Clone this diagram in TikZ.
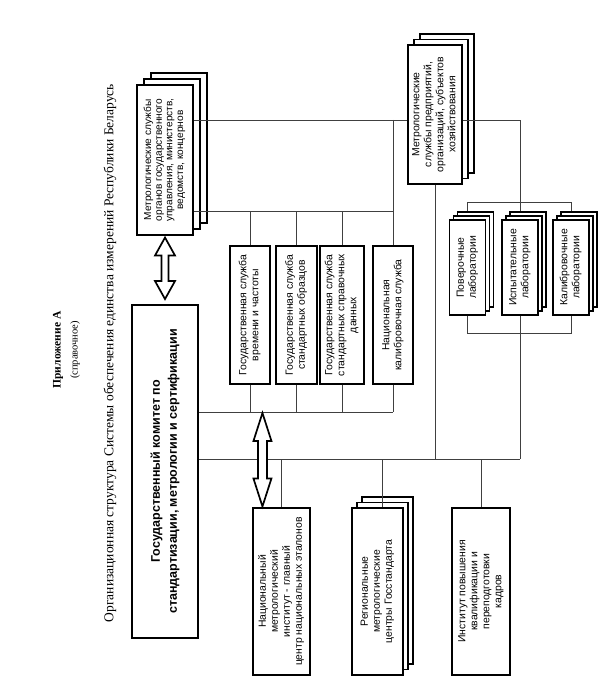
\documentclass[tikz,border=0pt]{standalone}
\usepackage{graphicx}
\usepackage{fontspec}
\setmainfont{Liberation Serif}
\setsansfont{Liberation Sans}
\usetikzlibrary{calc}

\newcommand{\vtext}[1]{\rotatebox{90}{\begin{tabular}{@{}c@{}}#1\end{tabular}}}
% hollow double arrow: top tip, bottom tip, half head, half shaft, head length
\newcommand{\hollowarrow}[5]{%
  \draw[dblarrow] let \p1=#1, \p2=#2 in
    (\x1,\y1) -- (\x1+#3,\y1-#5) -- (\x1+#4,\y1-#5) -- (\x1+#4,\y2+#5)
    -- (\x1+#3,\y2+#5) -- (\x1,\y2) -- (\x1-#3,\y2+#5) -- (\x1-#4,\y2+#5)
    -- (\x1-#4,\y1-#5) -- (\x1-#3,\y1-#5) -- cycle;}

\tikzset{
  box/.style={draw, fill=white, line width=1.1pt, inner sep=0pt,
    font=\sffamily\fontsize{10.4}{12}\selectfont},
  line/.style={line width=0.8pt, draw=black!75},
  dblarrow/.style={line width=1.7pt, fill=white, line join=miter},
}

\begin{document}
\begin{tikzpicture}[x=1pt, y=-1pt]
\useasboundingbox (0,0) rectangle (603,684);

% titles
\node[rotate=90, font=\bfseries\fontsize{11.5}{13}\selectfont] (app) at (58,350) {Приложение А};
\node[rotate=90, font=\fontsize{10.5}{12}\selectfont] (ref) at (75,350) {(справочное)};
\node[rotate=90, font=\fontsize{13.5}{16}\selectfont] (title) at (110,353)
  {Организационная структура Системы обеспечения единства измерений Республики Беларусь};

% bus levels
\coordinate (yA) at (0,120);
\coordinate (yB) at (0,211);
\coordinate (yC) at (0,412);
\coordinate (yD) at (0,459);
\coordinate (yT) at (0,202);
\coordinate (yL) at (0,333);

% main committee
\node[box, line width=1.9pt, minimum width=66pt, minimum height=333pt,
  font=\sffamily\bfseries\fontsize{12.5}{17}\selectfont] (M) at (165,471.5)
  {\vtext{Государственный комитет по\\стандартизации, метрологии и сертификации}};

% ministries (stack)
\coordinate (cA) at (165,160);
\foreach \d in {2,1}
  \node[box, minimum width=56pt, minimum height=150pt] (A-\d) at ([shift={(7*\d,-6*\d)}]cA) {};
\node[box, minimum width=56pt, minimum height=150pt,
  font=\sffamily\fontsize{10.1}{10.6}\selectfont] (A) at (cA)
  {\vtext{Метрологические службы\\органов государственного\\управления, министерств,\\ведомств, концернов}};

% enterprises (stack)
\coordinate (cB) at (435,114.5);
\foreach \d in {2,1}
  \node[box, minimum width=54pt, minimum height=139pt] (B-\d) at ([shift={(6*\d,-5.5*\d)}]cB) {};
\node[box, minimum width=54pt, minimum height=139pt] (B) at (cB)
  {\vtext{Метрологические\\службы предприятий,\\организаций, субъектов\\хозяйствования}};

% state services
\node[box, minimum width=40pt, minimum height=138pt] (S1) at (250,315)
  {\vtext{Государственная служба\\времени и частоты}};
\node[box, minimum width=41pt, minimum height=138pt] (S2) at (296.5,315)
  {\vtext{Государственная служба\\стандартных образцов}};
\node[box, minimum width=44pt, minimum height=138pt] (S3) at (342,315)
  {\vtext{Государственная служба\\стандартных справочных\\данных}};
\node[box, minimum width=40pt, minimum height=138pt] (S4) at (393,315)
  {\vtext{Национальная\\калибровочная служба}};

% laboratories (stacks)
\coordinate (cL1) at (467.5,267.5);
\coordinate (cL2) at (520,267.5);
\coordinate (cL3) at (571,267.5);
\foreach \l in {L1,L2,L3}
  \foreach \d in {2,1}
    \node[box, minimum width=36pt, minimum height=95pt] (\l-\d) at ([shift={(4*\d,-4*\d)}]c\l) {};
\node[box, minimum width=36pt, minimum height=95pt] (L1) at (cL1) {\vtext{Поверочные\\лаборатории}};
\node[box, minimum width=36pt, minimum height=95pt] (L2) at (cL2) {\vtext{Испытательные\\лаборатории}};
\node[box, minimum width=36pt, minimum height=95pt] (L3) at (cL3) {\vtext{Калибровочные\\лаборатории}};

% lower row
\node[box, minimum width=57pt, minimum height=167pt] (N) at (281.5,591.5)
  {\vtext{Национальный\\метрологический\\институт - главный\\центр национальных эталонов}};
\coordinate (cR) at (377.5,591.5);
\foreach \d in {2,1}
  \node[box, minimum width=51pt, minimum height=167pt] (R-\d) at ([shift={(5*\d,-5.5*\d)}]cR) {};
\node[box, minimum width=51pt, minimum height=167pt] (R) at (cR)
  {\vtext{Региональные\\метрологические\\центры Госстандарта}};
\node[box, minimum width=58pt, minimum height=167pt] (I) at (481,591.5)
  {\vtext{Институт повышения\\квалификации и\\переподготовки\\кадров}};

% upper connections
\draw[line] (A.east |- yA) -- (B.west |- yA);
\draw[line] (B.east |- yA) -| (L2.north |- L2-2.north);
\draw[line] (A.east |- yB) -| (S4.north);
\draw[line] (S4.north |- yA) -- (S4.north |- yB);
\foreach \s in {S1,S2,S3}
  \draw[line] (\s.north) -- (\s.north |- yB);
\foreach \s in {S1,S2,S3,S4}
  \draw[line] (\s.south) -- (\s.south |- yC);
\draw[line] (M.east |- yC) -- (S4.south |- yC);

% laboratories
\draw[line] (L1.north |- L1-2.north) |- (yT -| L3.north) -- (L3.north |- L3-2.north);
\draw[line] (L1.south) |- (yL -| L3.south) -- (L3.south);
\draw[line] (L2.south) -- (L2.south |- yD);

% lower connections
\draw[line] (M.east |- yD) -- (L2.south |- yD);
\draw[line] (B.south) -- (B.south |- yD);
\draw[line] (N.north) -- (N.north |- yD);
\draw[line] (R-1.north |- yD) -- (R.north -| R-1.north);
\draw[line] (I.north) -- (I.north |- yD);

% double arrows
\hollowarrow{([yshift=-2pt]A.south)}{([yshift=5pt]M.north)}{10pt}{3.5pt}{18pt}
\hollowarrow{($(N.north west |- yC)+(10,1)$)}{($(N.north west)+(10,-1)$)}{9pt}{4.5pt}{28pt}

\end{tikzpicture}
\end{document}
